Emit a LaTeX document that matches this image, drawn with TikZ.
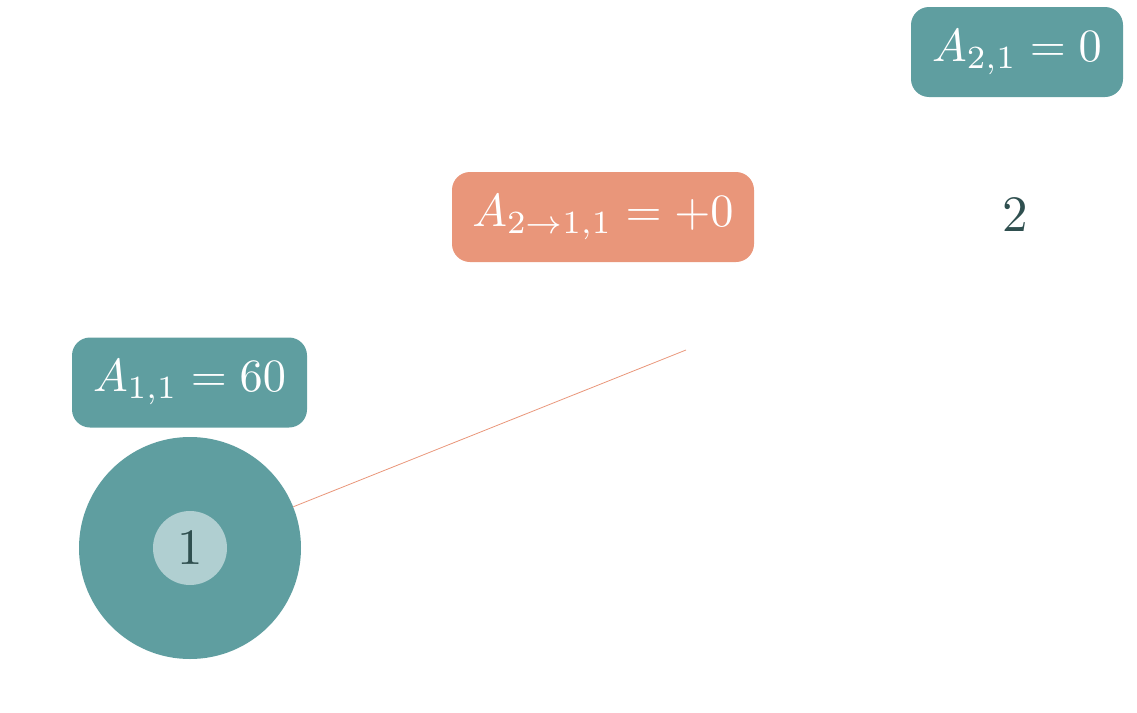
\documentclass[tikz,border=0pt]{standalone}
\definecolor{teal1}{HTML}{5F9EA0}
\definecolor{salmon1}{HTML}{E9967A}
\definecolor{light1}{HTML}{B0CFD1}
\definecolor{dark1}{HTML}{2F4F4F}
\newcommand{\bigtxt}[1]{\scalebox{5.1}{#1}}
\newcommand{\boxtxt}[1]{\scalebox{4.63}{#1}}
\tikzset{
  valbox/.style={fill=teal1, rounded corners=18pt, text=white, minimum height=90pt, inner sep=0pt},
  flowbox/.style={valbox, fill=salmon1},
  bigdisc/.style={circle, fill=teal1, minimum size=222pt, inner sep=0pt},
  innerdisc/.style={circle, fill=light1, minimum size=74pt, inner sep=0pt, text=dark1},
  plainlabel/.style={text=dark1, inner sep=0pt},
  flowline/.style={draw=salmon1, line width=0.8pt}
}
\begin{document}
\begin{tikzpicture}[x=1pt,y=-1pt]
\useasboundingbox (0,0) rectangle (1137,712);
\node[bigdisc] (n1) at (190,548) {};
\node[innerdisc] (n1in) at (190,548) {\bigtxt{1}};
\node[plainlabel] (n2) at (1015,215) {\bigtxt{2}};
\coordinate (tip) at (686,350);
\draw[flowline] (n1) -- (tip);
\node[valbox, minimum width=212pt] (a21) at (1017,52) {\boxtxt{$A_{2,1}=0$}};
\node[flowbox, minimum width=302pt] (a211) at (603,217) {\boxtxt{$A_{2\to1,1}=+0$}};
\node[valbox, minimum width=235pt] (a11) at (189.5,382.5) {\boxtxt{$A_{1,1}=60$}};
\end{tikzpicture}
\end{document}
